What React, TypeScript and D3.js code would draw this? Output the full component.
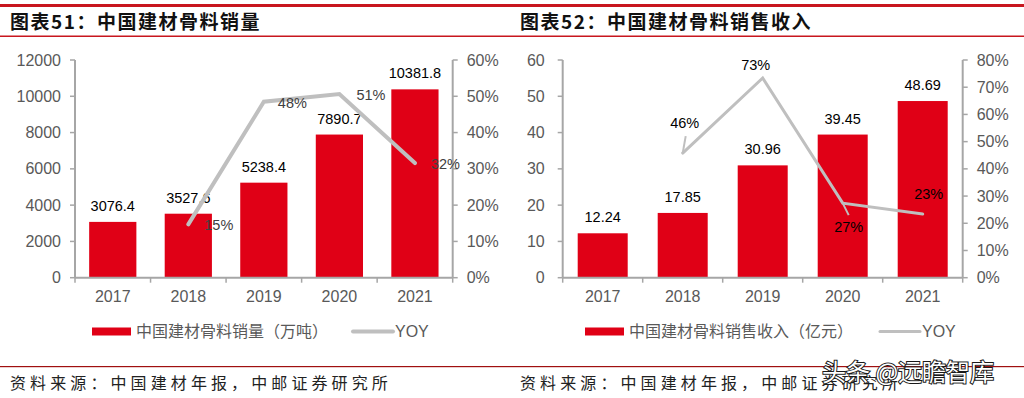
import React from 'react';
import * as d3 from 'd3';

const years = ['2017', '2018', '2019', '2020', '2021'];
const volume = [3076.4, 3527.6, 5238.4, 7890.7, 10381.8];
const volumeLabels = ['3076.4', '3527.6', '5238.4', '7890.7', '10381.8'];
const volumeYoy = [null, 0.147, 0.485, 0.506, 0.316];
const volumeYoyLabels = ['', '15%', '48%', '51%', '32%'];
const volumeTicks = [0, 2000, 4000, 6000, 8000, 10000, 12000];
const volumeYoyTicks = [0, 0.1, 0.2, 0.3, 0.4, 0.5, 0.6];

const revenue = [12.24, 17.85, 30.96, 39.45, 48.69];
const revenueLabels = ['12.24', '17.85', '30.96', '39.45', '48.69'];
const revenueYoy = [null, 0.458, 0.734, 0.274, 0.234];
const revenueYoyLabels = ['', '46%', '73%', '27%', '23%'];
const revenueTicks = [0, 10, 20, 30, 40, 50, 60];
const revenueYoyTicks = [0, 0.1, 0.2, 0.3, 0.4, 0.5, 0.6, 0.7, 0.8];

const RED = '#e00016';
const LINE = '#bfbfbf';
const AXIS = '#a6a6a6';
const TICKTXT = '#595959';
const LATIN = '"Liberation Sans", Arial, sans-serif';
const CJK = '"Noto Sans CJK SC", "Liberation Sans", sans-serif';

type Cfg = {
  title: string;
  legend: string;
  values: number[];
  labels: string[];
  yoy: (number | null)[];
  yoyLabels: string[];
  ticks: number[];
  yoyTicks: number[];
  left: number;
  right: number;
  leftGap: number;
  lineWidth: number;
  yoyColor: string;
  yoyOffsets: [number, number, string][];
  leaders: ([number, number, number, number] | null)[];
  legendX: number;
  legendLineX: number;
  originX: number;
};

const TOP = 60;
const BOTTOM = 277.7;

function Chart({ cfg }: { cfg: Cfg }) {
  const x = d3
    .scaleBand<string>()
    .domain(years)
    .range([cfg.left, cfg.right])
    .paddingInner(0.375)
    .paddingOuter(0.1875);
  const yL = d3
    .scaleLinear()
    .domain([cfg.ticks[0], cfg.ticks[cfg.ticks.length - 1]])
    .range([BOTTOM, TOP]);
  const yR = d3
    .scaleLinear()
    .domain([cfg.yoyTicks[0], cfg.yoyTicks[cfg.yoyTicks.length - 1]])
    .range([BOTTOM, TOP]);
  const cx = (y: string) => (x(y) as number) + x.bandwidth() / 2;
  const pts = years
    .map((y, i) => ({ y, v: cfg.yoy[i], i }))
    .filter((d) => d.v !== null) as { y: string; v: number; i: number }[];
  const line = d3
    .line<{ y: string; v: number }>()
    .x((d) => cx(d.y))
    .y((d) => yR(d.v));
  const step = x.step();
  const bounds = d3.range(years.length + 1).map((i) => cfg.left + i * step);
  return (
    <g>
      <text
        x={cfg.originX + 10}
        y={29}
        fontFamily={CJK}
        fontWeight={700}
        fontSize={19}
        letterSpacing={1.5}
        fill="#111"
      >
        {cfg.title}
      </text>
      {cfg.values.map((v, i) => (
        <rect
          key={years[i]}
          x={x(years[i])}
          y={yL(v)}
          width={x.bandwidth()}
          height={BOTTOM - yL(v)}
          fill={RED}
        />
      ))}
      {cfg.values.map((v, i) => (
        <text
          key={'l' + i}
          x={cx(years[i])}
          y={yL(v) - 11}
          textAnchor="middle"
          fontFamily={LATIN}
          fontSize={14.5}
          fill="#000"
        >
          {cfg.labels[i]}
        </text>
      ))}
      <line x1={cfg.left} x2={cfg.left} y1={TOP} y2={BOTTOM} stroke={AXIS} strokeWidth={2} />
      {cfg.ticks.map((t) => (
        <g key={'lt' + t}>
          <line x1={cfg.left - 5} x2={cfg.left} y1={yL(t)} y2={yL(t)} stroke={AXIS} strokeWidth={1.5} />
          <text
            x={cfg.left - cfg.leftGap}
            y={yL(t)}
            dy="0.35em"
            textAnchor="end"
            fontFamily={LATIN}
            fontSize={16}
            fill={TICKTXT}
          >
            {t}
          </text>
        </g>
      ))}
      <line x1={cfg.right} x2={cfg.right} y1={TOP} y2={BOTTOM} stroke={AXIS} strokeWidth={2} />
      {cfg.yoyTicks.map((t) => (
        <g key={'rt' + t}>
          <line x1={cfg.right} x2={cfg.right + 5} y1={yR(t)} y2={yR(t)} stroke={AXIS} strokeWidth={1.5} />
          <text
            x={cfg.right + 14}
            y={yR(t)}
            dy="0.35em"
            textAnchor="start"
            fontFamily={LATIN}
            fontSize={16}
            fill={TICKTXT}
          >
            {d3.format('.0%')(t)}
          </text>
        </g>
      ))}
      <line x1={cfg.left} x2={cfg.right} y1={BOTTOM} y2={BOTTOM} stroke={AXIS} strokeWidth={2} />
      {bounds.map((b, i) => (
        <line key={'xb' + i} x1={b} x2={b} y1={BOTTOM} y2={BOTTOM + 5} stroke={AXIS} strokeWidth={1.5} />
      ))}
      {years.map((y) => (
        <text
          key={'xl' + y}
          x={cx(y)}
          y={BOTTOM + 19}
          dy="0.35em"
          textAnchor="middle"
          fontFamily={LATIN}
          fontSize={16}
          fill={TICKTXT}
        >
          {y}
        </text>
      ))}
      <path
        d={line(pts) || ''}
        fill="none"
        stroke={LINE}
        strokeWidth={cfg.lineWidth}
        strokeLinecap="round"
      />
      {cfg.leaders.map((l, i) =>
        l ? (
          <line
            key={'ld' + i}
            x1={cx(years[i]) + l[0]}
            y1={yR(cfg.yoy[i] as number) + l[1]}
            x2={cx(years[i]) + l[2]}
            y2={yR(cfg.yoy[i] as number) + l[3]}
            stroke={LINE}
            strokeWidth={2}
          />
        ) : null
      )}
      {pts.map((d) => {
        const o = cfg.yoyOffsets[d.i];
        return (
          <text
            key={'yl' + d.i}
            x={cx(d.y) + o[0]}
            y={yR(d.v) + o[1]}
            dy="0.35em"
            textAnchor={o[2] as any}
            fontFamily={LATIN}
            fontSize={14.5}
            fill={cfg.yoyColor}
          >
            {cfg.yoyLabels[d.i]}
          </text>
        );
      })}
      <rect x={cfg.legendX} y={327.5} width={39} height={8} fill={RED} />
      <text
        x={cfg.legendX + 44}
        y={331.5}
        dy="0.35em"
        fontFamily={CJK}
        fontSize={16}
        fill={TICKTXT}
      >
        {cfg.legend}
      </text>
      <line
        x1={cfg.legendLineX}
        x2={cfg.legendLineX + 40}
        y1={331.5}
        y2={331.5}
        stroke={LINE}
        strokeWidth={cfg.lineWidth}
        strokeLinecap="round"
      />
      <text
        x={cfg.legendLineX + 42}
        y={331.5}
        dy="0.35em"
        fontFamily={LATIN}
        fontSize={16}
        fill={TICKTXT}
      >
        YOY
      </text>
      <text
        x={cfg.originX + 10}
        y={389}
        fontFamily={CJK}
        fontSize={16}
        letterSpacing={4.1}
        fill="#222"
      >
        资料来源：中国建材年报，中邮证券研究所
      </text>
    </g>
  );
}

const cfg1: Cfg = {
  title: '图表51：中国建材骨料销量',
  legend: '中国建材骨料销量（万吨）',
  values: volume,
  labels: volumeLabels,
  yoy: volumeYoy,
  yoyLabels: volumeYoyLabels,
  ticks: volumeTicks,
  yoyTicks: volumeYoyTicks,
  left: 75,
  right: 452.7,
  leftGap: 14,
  lineWidth: 4,
  yoyColor: '#404040',
  yoyOffsets: [
    [0, 0, 'start'],
    [16, 1, 'start'],
    [14, 1, 'start'],
    [17, 1, 'start'],
    [16, 1, 'start'],
  ],
  leaders: [null, null, null, null, null],
  legendX: 92,
  legendLineX: 353,
  originX: 0,
};

const cfg2: Cfg = {
  title: '图表52：中国建材骨料销售收入',
  legend: '中国建材骨料销售收入（亿元）',
  values: revenue,
  labels: revenueLabels,
  yoy: revenueYoy,
  yoyLabels: revenueYoyLabels,
  ticks: revenueTicks,
  yoyTicks: revenueYoyTicks,
  left: 562.7,
  right: 962.7,
  leftGap: 18,
  lineWidth: 3,
  yoyColor: '#000',
  yoyOffsets: [
    [0, 0, 'middle'],
    [2, -30, 'middle'],
    [-7, -13, 'middle'],
    [6, 24, 'middle'],
    [6, -20, 'middle'],
  ],
  leaders: [null, [0, 0, 3, -17], null, [0, 0, 6, 12], null],
  legendX: 585,
  legendLineX: 880,
  originX: 510,
};

export default function App() {
  return (
    <svg
      width={1024}
      height={398}
      viewBox="0 0 1024 398"
      style={{ position: 'absolute', left: 0, top: 0, background: '#fff' }}
    >
      <rect x={0} y={0} width={1024} height={398} fill="#fff" />
      <rect x={0} y={4} width={1024} height={3} fill="#c8161e" />
      <rect x={0} y={35.5} width={1024} height={1.5} fill="#c8161e" />
      <rect x={0} y={366} width={1024} height={1.2} fill="#a01010" />
      <Chart cfg={cfg1} />
      <Chart cfg={cfg2} />
      <text
        x={822}
        y={381}
        fontFamily={CJK}
        fontSize={24}
        fill="#fff"
        stroke="#1a1a1a"
        strokeWidth={2}
        paintOrder="stroke"
        letterSpacing={0}
      >
        头条 @远瞻智库
      </text>
    </svg>
  );
}
